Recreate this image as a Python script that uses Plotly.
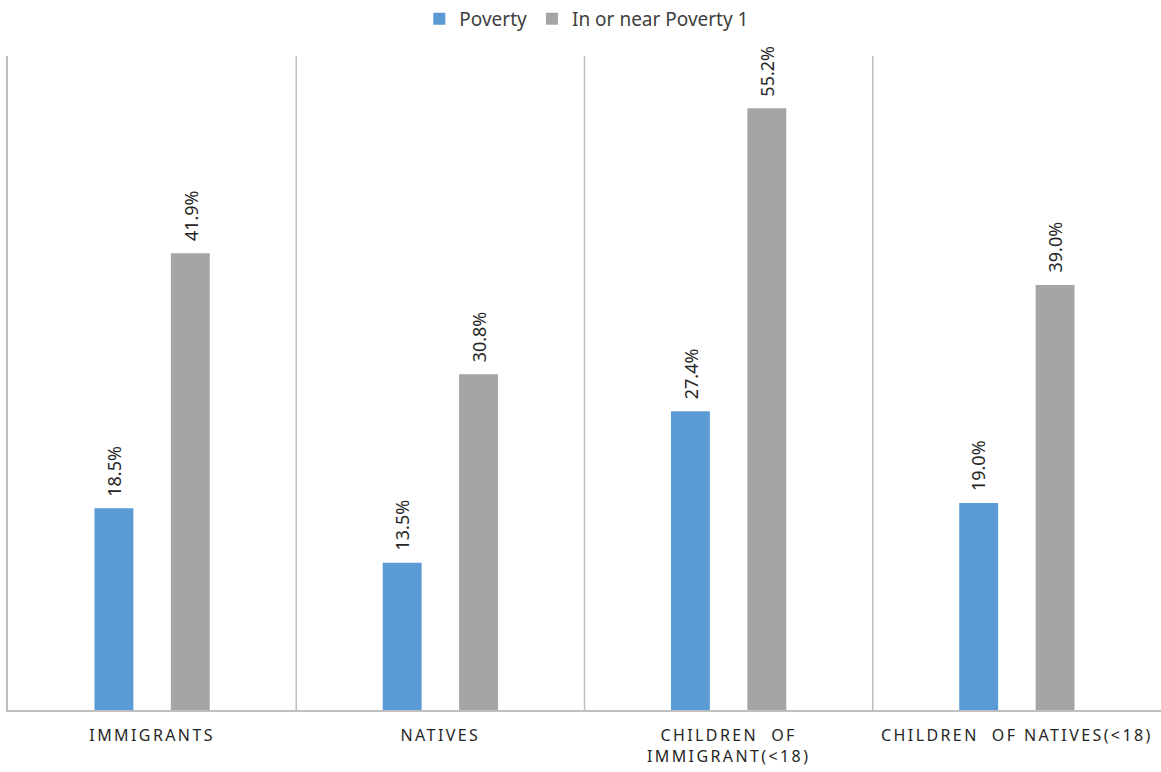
import plotly.graph_objects as go

# Poverty rates by population group (percent)
categories = ["IMMIGRANTS", "NATIVES", "CHILDREN  OF<br>IMMIGRANT(&lt;18)", "CHILDREN  OF NATIVES(&lt;18)"]
poverty = [18.5, 13.5, 27.4, 19.0]
near_poverty = [41.9, 30.8, 55.2, 39.0]

BLUE = "#5B9BD5"
GRAY = "#A5A5A5"
LINE = "#BFBFBF"
TEXT = "#404040"
FONT = "Noto Sans"
BAR_W = 0.135

x_pos = list(range(len(categories)))
tick_text = ['<span style="letter-spacing:2.4px">' + c + "</span>" for c in categories]

series = [
    ("Poverty", poverty, BLUE, -0.2),
    ("In or near Poverty 1", near_poverty, GRAY, 0.065),
]

fig = go.Figure()
for name, values, color, offset in series:
    fig.add_trace(
        go.Bar(
            name=name,
            x=x_pos,
            y=values,
            marker=dict(color=color, line=dict(width=0)),
            width=BAR_W,
            offset=offset,
        )
    )
    # value labels, rotated, sitting just above each bar
    for xi, v in zip(x_pos, values):
        fig.add_annotation(
            x=xi + offset + BAR_W / 2,
            y=v,
            xref="x",
            yref="y",
            text=f"{v:.1f}%",
            textangle=-90,
            showarrow=False,
            xanchor="center",
            yanchor="bottom",
            yshift=10,
            font=dict(family=FONT, size=18, color="#262626"),
        )

fig.update_layout(
    width=1161,
    height=772,
    margin=dict(l=8, r=0, t=56, b=62),
    paper_bgcolor="white",
    plot_bgcolor="white",
    barmode="overlay",
    showlegend=True,
    legend=dict(
        orientation="h",
        x=0.502,
        xanchor="center",
        y=1.0,
        yref="container",
        yanchor="top",
        font=dict(family=FONT, size=19, color=TEXT),
        itemwidth=30,
        traceorder="normal",
    ),
    font=dict(family=FONT, color=TEXT),
)

fig.update_xaxes(
    range=[-0.5, len(categories) - 0.5],
    tickmode="array",
    tickvals=x_pos,
    ticktext=tick_text,
    tickfont=dict(family=FONT, size=16, color="#262626"),
    ticklabelstandoff=10,
    showgrid=False,
    showline=True,
    linecolor=LINE,
    linewidth=1.5,
    ticks="",
    zeroline=False,
)

fig.update_yaxes(
    range=[0, 60],
    showticklabels=False,
    showgrid=False,
    zeroline=False,
    showline=True,
    linecolor=LINE,
    linewidth=1.5,
    ticks="",
)

# vertical separators between groups
for b in [0.5, 1.5, 2.5]:
    fig.add_shape(
        type="line",
        xref="x",
        yref="paper",
        x0=b,
        x1=b,
        y0=0,
        y1=1,
        line=dict(color=LINE, width=1.5),
        layer="below",
    )

fig.write_html("out.html")
